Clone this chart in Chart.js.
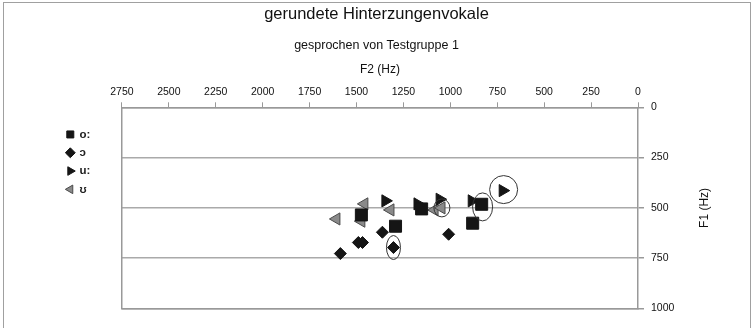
<!DOCTYPE html>
<html>
<head>
<meta charset="utf-8">
<script src="https://cdn.jsdelivr.net/npm/chart.js@4.4.1/dist/chart.umd.min.js"></script>
<style>
    body { margin: 0; background: #fff; }
    #wrap { position: relative; width: 753px; height: 328px; overflow: hidden; }
    #frame { position: absolute; left: 3px; top: 2px; width: 746px; height: 340px; border: 1px solid #a0a0a0; pointer-events: none; }
</style>
</head>
<body>
<div id="wrap">
    <canvas id="vowelChart" width="753" height="328"></canvas>
    <div id="frame"></div>
</div>
<script>
// vowel labels (legend order)
const vowelLabels = ['o:', 'ɔ', 'u:', 'ʊ'];

// F2 / F1 values in Hz
const f2_o = [1474, 1153, 1292, 833, 881];
const f1_o = [535, 505, 591, 482, 576];

const f2_open_o = [1586, 1490, 1468, 1362, 1303, 1009];
const f1_open_o = [727, 672, 672, 621, 697, 631];

const f2_u = [1346, 1175, 1057, 886, 721];
const f1_u = [465, 480, 457, 465, 414];

const f2_open_u = [1458, 1319, 1607, 1474, 1084, 1047];
const f1_open_u = [480, 510, 555, 566, 510, 500];

// circled points (F2, F1)
const circledF2 = [1303, 1045, 828, 716];
const circledF1 = [697, 500, 495, 409];

// axis ticks
const f2Ticks = [0, 250, 500, 750, 1000, 1250, 1500, 1750, 2000, 2250, 2500, 2750];
const f1Ticks = [0, 250, 500, 750, 1000];

const FONT = "'Liberation Sans', Arial, sans-serif";
Chart.defaults.font.family = FONT;
Chart.defaults.color = '#111';

function toPoints(xs, ys) {
    return xs.map((x, i) => ({ x: x, y: ys[i] }));
}

// ellipse radii in px for the circled points
const circleRadii = [[7, 12], [8, 9], [10, 14], [14, 14]];

const circlePlugin = {
    id: 'circles',
    afterDatasetsDraw(chart) {
        const ctx = chart.ctx;
        const xs = chart.scales.x, ys = chart.scales.y;
        ctx.save();
        ctx.strokeStyle = '#333';
        ctx.lineWidth = 1;
        circledF2.forEach((v, i) => {
            const cx = xs.getPixelForValue(v);
            const cy = ys.getPixelForValue(circledF1[i]);
            ctx.beginPath();
            ctx.ellipse(cx, cy, circleRadii[i][0], circleRadii[i][1], 0, 0, Math.PI * 2);
            ctx.stroke();
        });
        ctx.restore();
    }
};

const f1TitlePlugin = {
    id: 'f1title',
    afterDraw(chart) {
        const ctx = chart.ctx;
        const a = chart.chartArea;
        ctx.save();
        ctx.translate(705, (a.top + a.bottom) / 2);
        ctx.rotate(-Math.PI / 2);
        ctx.textAlign = 'center';
        ctx.textBaseline = 'middle';
        ctx.fillStyle = '#111';
        ctx.font = '12px ' + FONT;
        ctx.fillText('F1 (Hz)', 0, 0);
        ctx.restore();
    }
};

const plainNumber = (v) => String(v);

const ctx = document.getElementById('vowelChart').getContext('2d');
const chart = new Chart(ctx, {
    type: 'scatter',
    data: {
        datasets: [
            {
                label: vowelLabels[0],
                data: toPoints(f2_o, f1_o),
                pointStyle: 'rect',
                pointRadius: 8.5,
                backgroundColor: '#151515',
                borderColor: '#151515',
                borderWidth: 1
            },
            {
                label: vowelLabels[1],
                data: toPoints(f2_open_o, f1_open_o),
                pointStyle: 'rectRot',
                pointRadius: 6,
                backgroundColor: '#151515',
                borderColor: '#151515',
                borderWidth: 1
            },
            {
                label: vowelLabels[2],
                data: toPoints(f2_u, f1_u),
                pointStyle: 'triangle',
                pointRotation: 90,
                pointRadius: 7,
                backgroundColor: '#151515',
                borderColor: '#151515',
                borderWidth: 1
            },
            {
                label: vowelLabels[3],
                data: toPoints(f2_open_u, f1_open_u),
                pointStyle: 'triangle',
                pointRotation: -90,
                pointRadius: 7,
                backgroundColor: '#8a8a8a',
                borderColor: '#4a4a4a',
                borderWidth: 1
            }
        ]
    },
    options: {
        responsive: false,
        animation: false,
        events: [],
        layout: { padding: { left: 60, right: 60, top: 0, bottom: 19.5 } },
        plugins: {
            title: {
                display: true,
                text: 'gerundete Hinterzungenvokale',
                font: { size: 16.5, weight: 'normal' },
                padding: { top: 5, bottom: 13.5 },
                color: '#111'
            },
            subtitle: {
                display: true,
                text: 'gesprochen von Testgruppe 1',
                font: { size: 12.5 },
                padding: { top: 0, bottom: 9 },
                color: '#111'
            },
            legend: {
                position: 'left',
                align: 'start',
                fullSize: false,
                title: { display: true, text: '', font: { size: 8 }, padding: { top: 5, bottom: 0 } },
                labels: {
                    usePointStyle: true,
                    boxWidth: 7,
                    boxHeight: 7,
                    padding: 6.8,
                    font: { size: 11.5, weight: 'bold' },
                    color: '#222'
                }
            },
            tooltip: { enabled: false }
        },
        scales: {
            x: {
                type: 'linear',
                position: 'top',
                reverse: true,
                min: 0,
                max: 2750,
                afterBuildTicks: (s) => { s.ticks = f2Ticks.map(v => ({ value: v })); },
                ticks: { padding: 4, font: { size: 10.5 }, maxRotation: 0, autoSkip: false, color: '#111', callback: plainNumber },
                grid: { display: true, drawOnChartArea: false, drawTicks: true, tickLength: 5, color: '#999' },
                border: { color: '#999', width: 1.5 },
                title: { display: true, text: 'F2 (Hz)', font: { size: 12 }, padding: { top: 0, bottom: 5 }, color: '#111' }
            },
            y: {
                type: 'linear',
                position: 'right',
                reverse: true,
                min: 0,
                max: 1000,
                afterBuildTicks: (s) => { s.ticks = f1Ticks.map(v => ({ value: v })); },
                afterFit: (s) => { s.width = 55; },
                ticks: { padding: 7, font: { size: 10.5 }, color: '#111', callback: plainNumber },
                grid: { color: '#aaa', lineWidth: 1.5, tickLength: 6, tickColor: '#999' },
                border: { color: '#999', width: 1.5 }
            },
            yLeft: {
                type: 'linear',
                position: 'left',
                display: true,
                ticks: { display: false },
                grid: { display: false },
                border: { display: true, color: '#999', width: 1.5 },
                afterFit: (s) => { s.width = 21.5; }
            },
            xBottom: {
                type: 'linear',
                position: 'bottom',
                display: true,
                ticks: { display: false },
                grid: { display: false },
                border: { display: true, color: '#999', width: 1.5 },
                afterFit: (s) => { s.height = 0; }
            }
        }
    },
    plugins: [circlePlugin, f1TitlePlugin]
});
</script>
</body>
</html>
